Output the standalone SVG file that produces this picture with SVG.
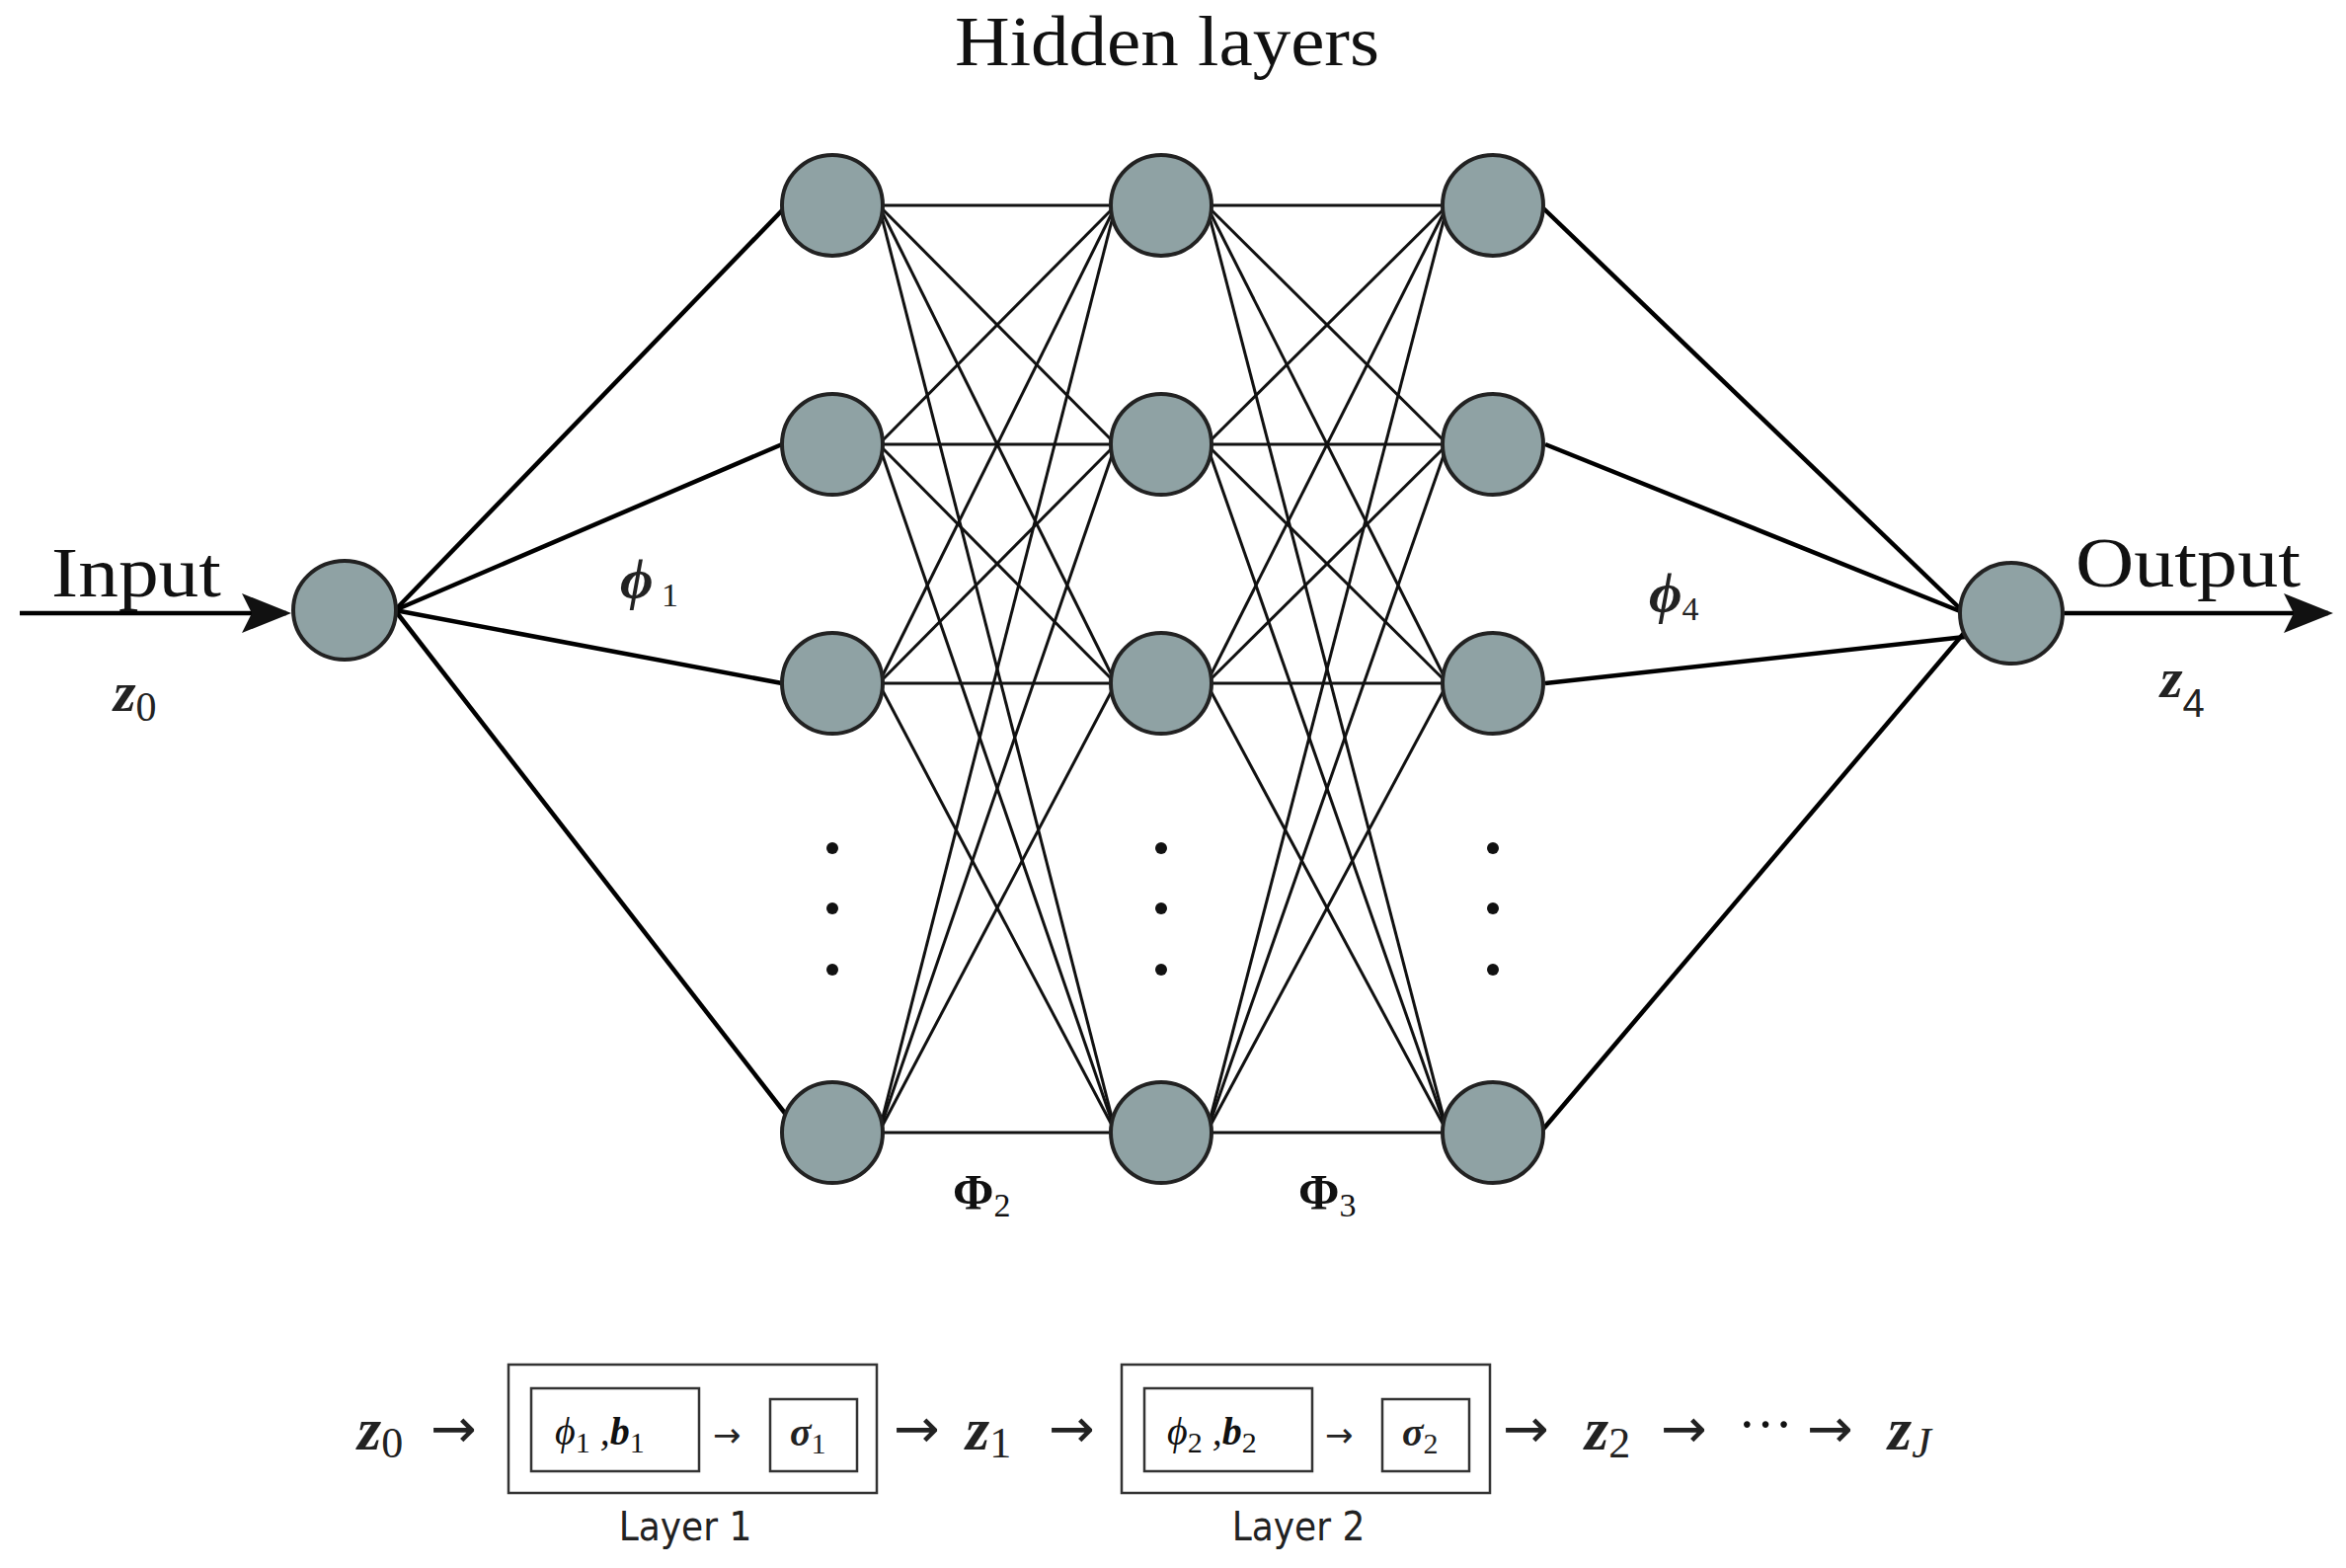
<svg xmlns="http://www.w3.org/2000/svg" width="2376" height="1588" viewBox="0 0 2376 1588">
<defs>
<marker id="big" viewBox="0 0 10 10" refX="9" refY="5" markerWidth="50" markerHeight="40" markerUnits="userSpaceOnUse" orient="auto" preserveAspectRatio="none"><path d="M0,0 L10,5 L0,10 L2,5 z" fill="#111"/></marker>
</defs>
<style>
.n{fill:#8fa2a4;stroke:#222;stroke-width:4}
.thick{stroke:#000;stroke-width:4.5;fill:none}
.thin{stroke:#111;stroke-width:3;fill:none}
.serif{font-family:"Liberation Serif","DejaVu Serif",serif;fill:#111}
.m{font-family:"Liberation Serif","DejaVu Serif",serif;font-style:italic;font-weight:bold;fill:#222}
.sans{font-family:"DejaVu Sans Condensed","Liberation Sans",sans-serif;fill:#222}
.box{fill:none;stroke:#333;stroke-width:2.5}
.ar{font-family:"DejaVu Sans",sans-serif;fill:#222}
</style>
<rect width="2376" height="1588" fill="#fff"/>
<g id="connectors">
<line class="thick" x1="20" y1="621" x2="290" y2="621" marker-end="url(#big)"/>
<line class="thick" x1="2091" y1="621" x2="2358" y2="621" marker-end="url(#big)"/>
<g class="thick">
<line x1="400" y1="618" x2="797" y2="208"/><line x1="400" y1="618" x2="792" y2="450"/><line x1="400" y1="618" x2="792" y2="692"/><line x1="400" y1="618" x2="797" y2="1130"/>
<line x1="1560" y1="208" x2="1990" y2="621"/><line x1="1565" y1="450" x2="1990" y2="621"/><line x1="1565" y1="692" x2="1990" y2="645"/><line x1="1560" y1="1147" x2="1990" y2="640"/>
</g>
<g class="thin">
<line x1="890" y1="208" x2="1130" y2="208"/><line x1="890" y1="208" x2="1130" y2="450"/><line x1="890" y1="208" x2="1130" y2="692"/><line x1="890" y1="208" x2="1130" y2="1147"/>
<line x1="890" y1="450" x2="1130" y2="208"/><line x1="890" y1="450" x2="1130" y2="450"/><line x1="890" y1="450" x2="1130" y2="692"/><line x1="890" y1="450" x2="1130" y2="1147"/>
<line x1="890" y1="692" x2="1130" y2="208"/><line x1="890" y1="692" x2="1130" y2="450"/><line x1="890" y1="692" x2="1130" y2="692"/><line x1="890" y1="692" x2="1130" y2="1147"/>
<line x1="890" y1="1147" x2="1130" y2="208"/><line x1="890" y1="1147" x2="1130" y2="450"/><line x1="890" y1="1147" x2="1130" y2="692"/><line x1="890" y1="1147" x2="1130" y2="1147"/>
<line x1="1222" y1="208" x2="1466" y2="208"/><line x1="1222" y1="208" x2="1466" y2="450"/><line x1="1222" y1="208" x2="1466" y2="692"/><line x1="1222" y1="208" x2="1466" y2="1147"/>
<line x1="1222" y1="450" x2="1466" y2="208"/><line x1="1222" y1="450" x2="1466" y2="450"/><line x1="1222" y1="450" x2="1466" y2="692"/><line x1="1222" y1="450" x2="1466" y2="1147"/>
<line x1="1222" y1="692" x2="1466" y2="208"/><line x1="1222" y1="692" x2="1466" y2="450"/><line x1="1222" y1="692" x2="1466" y2="692"/><line x1="1222" y1="692" x2="1466" y2="1147"/>
<line x1="1222" y1="1147" x2="1466" y2="208"/><line x1="1222" y1="1147" x2="1466" y2="450"/><line x1="1222" y1="1147" x2="1466" y2="692"/><line x1="1222" y1="1147" x2="1466" y2="1147"/>
</g>
</g>
<g id="input"><ellipse class="n" cx="349" cy="618" rx="52" ry="50"/></g>
<g id="h1">
<ellipse class="n" cx="843" cy="208" rx="51" ry="51"/><ellipse class="n" cx="843" cy="450" rx="51" ry="51"/><ellipse class="n" cx="843" cy="692" rx="51" ry="51"/><ellipse class="n" cx="843" cy="1147" rx="51" ry="51"/>
</g>
<g id="h2">
<ellipse class="n" cx="1176" cy="208" rx="51" ry="51"/><ellipse class="n" cx="1176" cy="450" rx="51" ry="51"/><ellipse class="n" cx="1176" cy="692" rx="51" ry="51"/><ellipse class="n" cx="1176" cy="1147" rx="51" ry="51"/>
</g>
<g id="h3">
<ellipse class="n" cx="1512" cy="208" rx="51" ry="51"/><ellipse class="n" cx="1512" cy="450" rx="51" ry="51"/><ellipse class="n" cx="1512" cy="692" rx="51" ry="51"/><ellipse class="n" cx="1512" cy="1147" rx="51" ry="51"/>
</g>
<g id="output"><ellipse class="n" cx="2037" cy="621" rx="52" ry="51"/></g>
<g id="dots" fill="#111">
<circle cx="843" cy="859" r="6"/><circle cx="843" cy="920" r="6"/><circle cx="843" cy="982" r="6"/>
<circle cx="1176" cy="859" r="6"/><circle cx="1176" cy="920" r="6"/><circle cx="1176" cy="982" r="6"/>
<circle cx="1512" cy="859" r="6"/><circle cx="1512" cy="920" r="6"/><circle cx="1512" cy="982" r="6"/>
</g>
<g id="labels">
<text class="serif" x="1182" y="66" font-size="72" text-anchor="middle" textLength="430" lengthAdjust="spacingAndGlyphs">Hidden layers</text>
<text class="serif" x="52" y="604" font-size="72" textLength="172" lengthAdjust="spacingAndGlyphs">Input</text>
<text class="serif" x="2102" y="594" font-size="72" textLength="228" lengthAdjust="spacingAndGlyphs">Output</text>
<text class="m" x="115" y="720" font-size="58">z<tspan font-style="normal" font-weight="normal" font-size="42" dy="10">0</tspan></text>
<text class="m" x="2188" y="706" font-size="58">z<tspan font-style="normal" font-weight="normal" font-family="Liberation Sans,sans-serif" font-size="40" dy="20">4</tspan></text>
<text class="m" x="628" y="606" font-size="58">ϕ<tspan font-style="normal" font-weight="normal" font-size="34" dy="8"> 1</tspan></text>
<text class="m" x="1670" y="620" font-size="58">ϕ<tspan font-style="normal" font-weight="normal" font-size="34" dy="8">4</tspan></text>
<text class="serif" x="965" y="1224" font-size="50" font-weight="bold">Φ<tspan font-weight="normal" font-size="34" dy="8">2</tspan></text>
<text class="serif" x="1315" y="1224" font-size="50" font-weight="bold">Φ<tspan font-weight="normal" font-size="34" dy="8">3</tspan></text>
</g>
<g id="layer1">
<rect class="box" x="515" y="1382" width="373" height="130"/>
<rect class="box" x="538" y="1406" width="170" height="84"/>
<rect class="box" x="780" y="1417" width="88" height="73"/>
<text class="serif" x="562" y="1463" font-size="40" font-style="italic">ϕ<tspan font-style="normal" font-size="30" dy="8">1</tspan><tspan dy="-8">  ,</tspan><tspan font-weight="bold" font-style="italic">b</tspan><tspan font-style="normal" font-size="30" dy="8">1</tspan></text>
<text class="ar" x="722" y="1465" font-size="34">→</text>
<text class="m" x="800" y="1464" font-size="40">σ<tspan font-style="normal" font-weight="normal" font-size="30" dy="8">1</tspan></text>
<text class="sans" x="694" y="1560" font-size="40" text-anchor="middle">Layer 1</text>
</g>
<g id="layer2">
<rect class="box" x="1136" y="1382" width="373" height="130"/>
<rect class="box" x="1159" y="1406" width="170" height="84"/>
<rect class="box" x="1400" y="1417" width="88" height="73"/>
<text class="serif" x="1182" y="1463" font-size="40" font-style="italic">ϕ<tspan font-style="normal" font-size="30" dy="8">2</tspan><tspan dy="-8">  ,</tspan><tspan font-weight="bold" font-style="italic">b</tspan><tspan font-style="normal" font-size="30" dy="8">2</tspan></text>
<text class="ar" x="1342" y="1465" font-size="34">→</text>
<text class="m" x="1420" y="1464" font-size="40">σ<tspan font-style="normal" font-weight="normal" font-size="30" dy="8">2</tspan></text>
<text class="sans" x="1315" y="1560" font-size="40" text-anchor="middle">Layer 2</text>
</g>
<g id="chain">
<text class="m" x="362" y="1468" font-size="62">z<tspan font-style="normal" font-weight="normal" font-size="44" dy="8">0</tspan></text>
<text class="ar" x="436" y="1466" font-size="56">→</text>
<text class="ar" x="905" y="1466" font-size="56">→</text>
<text class="m" x="978" y="1468" font-size="62">z<tspan font-style="normal" font-weight="normal" font-size="44" dy="8">1</tspan></text>
<text class="ar" x="1062" y="1466" font-size="56">→</text>
<text class="ar" x="1522" y="1466" font-size="56">→</text>
<text class="m" x="1605" y="1468" font-size="62">z<tspan font-style="normal" font-weight="normal" font-size="44" dy="8">2</tspan></text>
<text class="ar" x="1682" y="1466" font-size="56">→</text>
<text class="serif" x="1760" y="1462" font-size="56">···</text>
<text class="ar" x="1830" y="1466" font-size="56">→</text>
<text class="m" x="1912" y="1468" font-size="62">z<tspan font-weight="normal" font-size="44" dy="8">J</tspan></text>
</g>
</svg>
